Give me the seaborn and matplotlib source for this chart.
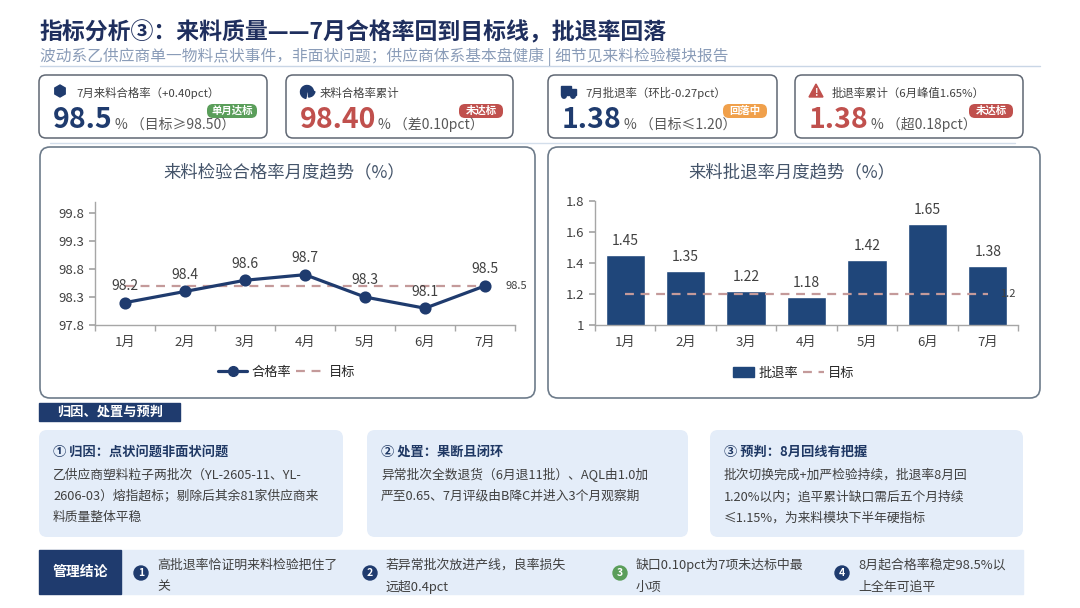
import matplotlib
matplotlib.use('Agg')
import matplotlib.pyplot as plt
from matplotlib.patches import FancyBboxPatch, Rectangle, Circle, Wedge, RegularPolygon, Polygon, Patch
from matplotlib.lines import Line2D
import seaborn as sns

# 数据
months = ['1月', '2月', '3月', '4月', '5月', '6月', '7月']
pass_rate = [98.2, 98.4, 98.6, 98.7, 98.3, 98.1, 98.5]
pass_target = 98.5
reject_rate = [1.45, 1.35, 1.22, 1.18, 1.42, 1.65, 1.38]
reject_target = 1.2
pass_ticks = [97.8, 98.3, 98.8, 99.3, 99.8]
reject_ticks = [1.0, 1.2, 1.4, 1.6, 1.8]

title = '指标分析③：来料质量——7月合格率回到目标线，批退率回落'
subtitle = '波动系乙供应商单一物料点状事件，非面状问题；供应商体系基本盘健康 | 细节见来料检验模块报告'

kpi_labels = ['7月来料合格率（+0.40pct）', '来料合格率累计', '7月批退率（环比-0.27pct）', '批退率累计（6月峰值1.65%）']
kpi_values = ['98.5', '98.40', '1.38', '1.38']
kpi_notes = ['（目标≥98.50）', '（差0.10pct）', '（目标≤1.20）', '（超0.18pct）']
kpi_badges = ['单月达标', '未达标', '回落中', '未达标']

card_titles = ['① 归因：点状问题非面状问题', '② 处置：果断且闭环', '③ 预判：8月回线有把握']
card_lines = [
    ['乙供应商塑料粒子两批次（YL-2605-11、YL-', '2606-03）熔指超标；剔除后其余81家供应商来', '料质量整体平稳'],
    ['异常批次全数退货（6月退11批）、AQL由1.0加', '严至0.65、7月评级由B降C并进入3个月观察期'],
    ['批次切换完成+加严检验持续，批退率8月回', '1.20%以内；追平累计缺口需后五个月持续', '≤1.15%，为来料模块下半年硬指标'],
]
conclusions = [
    ['高批退率恰证明来料检验把住了', '关'],
    ['若异常批次放进产线，良率损失', '远超0.4pct'],
    ['缺口0.10pct为7项未达标中最', '小项'],
    ['8月起合格率稳定98.5%以', '上全年可追平'],
]

# 颜色
NAVY = '#1f3b6e'
BAR = '#1f467a'
RED = '#c0504d'
GREEN = '#5a9e5a'
ORANGE = '#f0a04b'
TARGET = '#c49a9a'
TEXT = '#404040'
LIGHT = '#e4edf9'

sns.set_theme(style='white')
plt.rcParams['font.family'] = ['Noto Sans CJK SC', 'DejaVu Sans']
plt.rcParams['axes.unicode_minus'] = False

W, H = 1080, 608
fig = plt.figure(figsize=(W / 100, H / 100), dpi=100)
fig.patch.set_facecolor('white')

# 像素坐标的背景层
bg = fig.add_axes([0, 0, 1, 1], zorder=0)
bg.set_xlim(0, W)
bg.set_ylim(H, 0)
bg.axis('off')


def rbox(x0, y0, x1, y1, fc='none', ec='none', lw=1.0, r=8):
    p = FancyBboxPatch((x0, y0), x1 - x0, y1 - y0,
                       boxstyle=f'round,pad=0,rounding_size={r}',
                       fc=fc, ec=ec, lw=lw)
    bg.add_patch(p)


def px_rect(x0, y0, x1, y1):
    return [x0 / W, 1 - y1 / H, (x1 - x0) / W, (y1 - y0) / H]


# 标题
bg.text(40, 33, title, fontsize=16.5, fontweight='bold', color='#1f2f5e', va='center')
bg.text(40, 57, subtitle, fontsize=11.3, color='#8a9cb8', va='center')
bg.plot([40, 1040], [66, 66], color='#c9d6e6', lw=1)

# KPI 卡片
card_x = [(39, 267), (286, 513), (548, 777), (795, 1023)]
value_colors = [NAVY, RED, NAVY, RED]
badge_colors = [GREEN, RED, ORANGE, RED]
num_w = [56, 72, 56, 56]
for i, (x0, x1) in enumerate(card_x):
    rbox(x0, 75, x1, 138, fc='white', ec='#5f6773', lw=1.1, r=7)
    ix = x0 + 21
    if i == 0:
        bg.add_patch(RegularPolygon((ix, 91), 6, radius=6, color=NAVY))
    elif i == 1:
        bg.add_patch(Wedge((ix, 92), 6.5, 100, 350, color=NAVY))
        bg.add_patch(Wedge((ix + 1.5, 90.5), 6.5, 10, 90, color=NAVY))
    elif i == 2:
        bg.add_patch(Rectangle((ix - 8, 86), 10, 9, color=NAVY))
        bg.add_patch(Rectangle((ix + 2, 89), 5, 6, color=NAVY))
        bg.add_patch(Circle((ix - 5, 96), 2.2, color=NAVY))
        bg.add_patch(Circle((ix + 4, 96), 2.2, color=NAVY))
    else:
        bg.add_patch(Polygon([[ix - 7, 97], [ix + 7, 97], [ix, 84]], color=RED))
        bg.text(ix, 92.5, '!', color='white', fontsize=7, fontweight='bold', ha='center', va='center')
    bg.text(x0 + 37 if i != 1 else x0 + 34, 93, kpi_labels[i], fontsize=8.2, color=TEXT, va='center')
    nx = x0 + 14
    bg.text(nx, 120, kpi_values[i], fontsize=20.5, fontweight='bold', color=value_colors[i], va='center')
    bg.text(nx + num_w[i] + 6, 125, '% ' + kpi_notes[i], fontsize=10, color='#595959', va='center')
    bw = 50 if len(kpi_badges[i]) == 4 else 44
    bx1 = x1 - 10
    rbox(bx1 - bw, 104, bx1, 118, fc=badge_colors[i], r=6)
    bg.text(bx1 - bw / 2, 111, kpi_badges[i], fontsize=7.5, fontweight='bold', color='white',
            ha='center', va='center')
bg.plot([50, 1015], [143, 143], color='#d3deeb', lw=1)

# 图表面板
rbox(40, 147, 535, 398, fc='white', ec='#6d7b8a', lw=1.2, r=10)
rbox(548, 147, 1040, 398, fc='white', ec='#6d7b8a', lw=1.2, r=10)
bg.text(284, 172, '来料检验合格率月度趋势（%）', fontsize=12.5, color='#44546a', ha='center', va='center')
bg.text(792, 172, '来料批退率月度趋势（%）', fontsize=12.5, color='#44546a', ha='center', va='center')


def style_axis(ax):
    sns.despine(ax=ax)
    ax.patch.set_alpha(0)
    for s in ['left', 'bottom']:
        ax.spines[s].set_color('#a6a6a6')
        ax.spines[s].set_linewidth(1)
    ax.set_xlim(-0.5, len(months) - 0.5)
    ax.set_xticks(range(len(months)))
    ax.set_xticklabels(months)
    ax.set_xticks([i - 0.5 for i in range(len(months) + 1)], minor=True)
    ax.tick_params(axis='x', which='major', length=0, pad=8, labelsize=9.5, labelcolor=TEXT)
    ax.tick_params(axis='x', which='minor', length=4, color='#a6a6a6', bottom=True)
    ax.tick_params(axis='y', length=4, color='#a6a6a6', left=True, labelsize=9.5, labelcolor=TEXT, pad=4)
    ax.set_xlabel('')
    ax.set_ylabel('')


# 左图：合格率折线
ax1 = fig.add_axes(px_rect(95, 202, 515, 325), zorder=2)
ax1.plot(range(len(months)), [pass_target] * len(months), color=TARGET, lw=1.6, ls=(0, (4, 3)), zorder=1)
sns.pointplot(x=months, y=pass_rate, ax=ax1, color=NAVY, markers='o', markersize=7,
              linewidth=2.3, zorder=3)
style_axis(ax1)
ax1.set_ylim(97.8, 100.0)
ax1.set_yticks(pass_ticks)
ax1.set_yticklabels([f'{t:.1f}' for t in pass_ticks])
for i, v in enumerate(pass_rate):
    ax1.annotate(f'{v:.1f}', (i, v), xytext=(0, 12), textcoords='offset points',
                 ha='center', va='center', fontsize=10, color=TEXT)
ax1.annotate(f'{pass_target:g}', (len(months) - 1, pass_target), xytext=(15, 0), textcoords='offset points',
             ha='left', va='center', fontsize=8, color=TEXT)
h1 = [Line2D([0], [0], color=NAVY, lw=2.3, marker='o', markersize=7),
      Line2D([0], [0], color=TARGET, lw=1.6, ls=(0, (4, 3)))]
ax1.legend(h1, ['合格率', '目标'], loc='center', bbox_to_anchor=(287 / W, 1 - 372 / H),
           bbox_transform=fig.transFigure, ncol=2, frameon=False, fontsize=9.5,
           handlelength=2.2, columnspacing=0.4, handletextpad=0.3)

# 右图：批退率柱状
ax2 = fig.add_axes(px_rect(595, 201, 1018, 325), zorder=2)
sns.barplot(x=months, y=reject_rate, ax=ax2, color=BAR, saturation=1, width=0.65, zorder=2)
ax2.plot(range(len(months)), [reject_target] * len(months), color=TARGET, lw=1.6, ls=(0, (4, 3)), zorder=3)
style_axis(ax2)
ax2.set_ylim(1.0, 1.8)
ax2.set_yticks(reject_ticks)
ax2.set_yticklabels([f'{t:g}' for t in reject_ticks])
for i, v in enumerate(reject_rate):
    ax2.annotate(f'{v:.2f}', (i, v), xytext=(0, 10), textcoords='offset points',
                 ha='center', va='center', fontsize=10, color=TEXT)
ax2.annotate(f'{reject_target:g}', (len(months) - 1, reject_target), xytext=(9, 0), textcoords='offset points',
             ha='left', va='center', fontsize=8, color=TEXT)
h2 = [Patch(color=BAR), Line2D([0], [0], color=TARGET, lw=1.6, ls=(0, (4, 3)))]
ax2.legend(h2, ['批退率', '目标'], loc='center', bbox_to_anchor=(794 / W, 1 - 373 / H),
           bbox_transform=fig.transFigure, ncol=2, frameon=False, fontsize=9.5,
           handlelength=1.6, columnspacing=0.4, handletextpad=0.3)

# 归因、处置与预判
bg.add_patch(Rectangle((39, 403), 141, 18, color=NAVY))
bg.text(110, 412, '归因、处置与预判', fontsize=9.5, fontweight='bold', color='white', ha='center', va='center')
box_x = [(39, 343), (367, 688), (710, 1023)]
for (x0, x1), t, lines in zip(box_x, card_titles, card_lines):
    rbox(x0, 430, x1, 537, fc=LIGHT, r=8)
    bg.text(x0 + 14, 452, t, fontsize=9.5, fontweight='bold', color='#1f3864', va='center')
    for j, ln in enumerate(lines):
        bg.text(x0 + 14, 475 + j * 21.5, ln, fontsize=9.2, color=TEXT, va='center')

# 管理结论
bg.add_patch(Rectangle((121, 550), 902, 44, color=LIGHT))
bg.add_patch(Rectangle((39, 550), 82, 44, color=NAVY))
bg.text(80, 572, '管理结论', fontsize=10, fontweight='bold', color='white', ha='center', va='center')
circ_x = [141, 370, 620, 842]
circ_c = [NAVY, NAVY, GREEN, NAVY]
for k, (cx, col, lines) in enumerate(zip(circ_x, circ_c, conclusions)):
    bg.add_patch(Circle((cx, 573), 7, color=col))
    bg.text(cx, 573, str(k + 1), fontsize=7.5, fontweight='bold', color='white', ha='center', va='center')
    for j, ln in enumerate(lines):
        bg.text(cx + 16, 565 + j * 22, ln, fontsize=9.3, color=TEXT, va='center')

fig.savefig('out.png', dpi=100)
